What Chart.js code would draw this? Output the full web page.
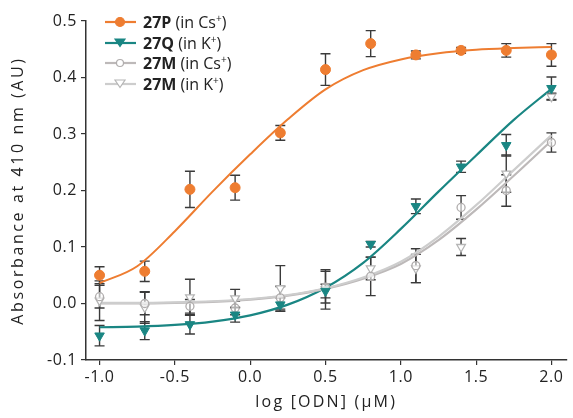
<!DOCTYPE html>
<html>
<head>
<meta charset="utf-8">
<script src="https://cdn.jsdelivr.net/npm/chart.js@4.4.1/dist/chart.umd.min.js"></script>
<style>
  body { margin: 0; background: #fff; }
  #wrap { position: relative; width: 573px; height: 418px; }
  #legend { position: absolute; left: 104px; top: 12px; font-family: "Open Sans", sans-serif; font-size: 16px; color: #222; line-height: 20.5px; }
  #legend div { display: flex; align-items: center; white-space: nowrap; }
  #legend svg { margin-right: 6px; }
  #legend sup { font-size: 10px; vertical-align: 6px; line-height: 0; }
</style>
</head>
<body>
<div id="wrap">
  <canvas id="myChart" width="573" height="418"></canvas>
  <div id="legend"></div>
</div>
<script>
// measured points (log conc.)
const xPts = [-1.0, -0.7, -0.4, -0.1, 0.2, 0.5, 0.8, 1.1, 1.4, 1.7, 2.0];
const p27P = [0.050, 0.057, 0.202, 0.205, 0.302, 0.414, 0.460, 0.440, 0.448, 0.448, 0.440];
const e27P = [0.015, 0.018, 0.032, 0.022, 0.013, 0.028, 0.023, 0.007, 0.005, 0.012, 0.020];
const p27Q = [-0.057, -0.048, -0.037, -0.020, -0.002, 0.022, 0.105, 0.172, 0.242, 0.280, 0.381];
const e27Q = [0.018, 0.016, 0.017, 0.013, 0.012, 0.012, 0.005, 0.013, 0.010, 0.019, 0.020];
const p27MCs = [0.012, 0.000, -0.005, -0.008, 0.010, 0.029, 0.048, 0.067, 0.170, 0.200, 0.285];
const e27MCs = [0.020, 0.020, 0.012, 0.012, 0.020, 0.028, 0.034, 0.030, 0.021, 0.028, 0.017];
const p27MK = [0.005, -0.007, 0.011, 0.009, 0.027, 0.025, 0.062, 0.062, 0.100, 0.230, 0.366];
const e27MK = [0.035, 0.028, 0.032, 0.016, 0.040, 0.035, 0.020, 0.025, 0.015, 0.033, 0.006];

// fitted curves
const xFit = [-1.0, -0.75, -0.5, -0.25, 0, 0.25, 0.5, 0.75, 1.0, 1.25, 1.5, 1.75, 2.0];
const f27P = [0.036, 0.066, 0.128, 0.198, 0.264, 0.326, 0.379, 0.413, 0.432, 0.443, 0.449, 0.452, 0.454];
const f27Q = [-0.042, -0.041, -0.038, -0.032, -0.021, -0.002, 0.028, 0.072, 0.132, 0.198, 0.262, 0.325, 0.380];
const f27MCs = [0.000, 0.000, 0.001, 0.003, 0.007, 0.014, 0.026, 0.044, 0.070, 0.112, 0.166, 0.226, 0.288];
const f27MK = [0.001, 0.001, 0.002, 0.004, 0.008, 0.015, 0.027, 0.046, 0.074, 0.118, 0.174, 0.236, 0.298];

const xTicks = [-1.0, -0.5, 0.0, 0.5, 1.0, 1.5, 2.0];
const yTicks = [-0.1, 0.0, 0.1, 0.2, 0.3, 0.4, 0.5];

const orange = '#ee7d31', teal = '#1a8683', grayCs = '#bdb9b9', grayK = '#cdcdcd';
const pts = (ys) => ys.map((y, i) => ({ x: xPts[i], y: y }));
const fit = (ys) => ys.map((y, i) => ({ x: xFit[i], y: y }));

// wider letter spacing for axis text, like the original figure
function spaced(s, titleSp, labelSp) {
  if (s._spaced) return;
  s._spaced = true;
  const t = s.drawTitle, l = s.drawLabels;
  s.drawTitle = function (a) { this.ctx.save(); this.ctx.letterSpacing = titleSp; t.call(this, a); this.ctx.restore(); };
  s.drawLabels = function (a) { this.ctx.save(); this.ctx.letterSpacing = labelSp; l.call(this, a); this.ctx.restore(); };
}

const errorBars = {
  id: 'errorBars',
  beforeDatasetsDraw(chart) {
    const { ctx, scales: { x, y } } = chart;
    ctx.save();
    ctx.strokeStyle = '#3a3a3a';
    ctx.lineWidth = 1.4;
    chart.data.datasets.forEach(ds => {
      if (!ds.err) return;
      ds.data.forEach((p, i) => {
        const px = x.getPixelForValue(p.x);
        const y1 = y.getPixelForValue(p.y + ds.err[i]);
        const y2 = y.getPixelForValue(p.y - ds.err[i]);
        ctx.beginPath();
        ctx.moveTo(px, y1); ctx.lineTo(px, y2);
        ctx.moveTo(px - 5, y1); ctx.lineTo(px + 5, y1);
        ctx.moveTo(px - 5, y2); ctx.lineTo(px + 5, y2);
        ctx.stroke();
      });
    });
    ctx.restore();
  }
};

const ctx = document.getElementById('myChart');
new Chart(ctx, {
  type: 'scatter',
  data: {
    datasets: [
      { label: '27P fit', data: fit(f27P), showLine: true, borderColor: orange, borderWidth: 2, pointRadius: 0, cubicInterpolationMode: 'monotone', order: 8 },
      { label: '27Q fit', data: fit(f27Q), showLine: true, borderColor: teal, borderWidth: 2.2, pointRadius: 0, cubicInterpolationMode: 'monotone', order: 7 },
      { label: '27M Cs fit', data: fit(f27MCs), showLine: true, borderColor: grayCs, borderWidth: 2.2, pointRadius: 0, cubicInterpolationMode: 'monotone', order: 6 },
      { label: '27M K fit', data: fit(f27MK), showLine: true, borderColor: grayK, borderWidth: 2.2, pointRadius: 0, cubicInterpolationMode: 'monotone', order: 5 },
      { label: '27M (in K+)', data: pts(p27MK), err: e27MK, pointStyle: 'triangle', rotation: 180, pointRadius: 5, backgroundColor: '#fff', borderColor: '#b5b5b5', borderWidth: 1.3, order: 4 },
      { label: '27M (in Cs+)', data: pts(p27MCs), err: e27MCs, pointStyle: 'circle', pointRadius: 4, backgroundColor: 'rgba(255,255,255,0.6)', borderColor: '#b0adad', borderWidth: 1.3, order: 3 },
      { label: '27Q (in K+)', data: pts(p27Q), err: e27Q, pointStyle: 'triangle', rotation: 180, pointRadius: 5.5, backgroundColor: teal, borderColor: teal, borderWidth: 1, order: 2 },
      { label: '27P (in Cs+)', data: pts(p27P), err: e27P, pointStyle: 'circle', pointRadius: 5, backgroundColor: orange, borderColor: orange, borderWidth: 1, order: 1 }
    ]
  },
  options: {
    responsive: false,
    animation: false,
    layout: { padding: { left: 0, right: 1, top: 21, bottom: 0 } },
    plugins: { legend: { display: false }, tooltip: { enabled: false } },
    scales: {
      x: {
        type: 'linear', min: -1.09, max: 2.1,
        afterBuildTicks: s => { s.ticks = xTicks.map(v => ({ value: v })); },
        afterFit: s => { s.height = 58; spaced(s, '2.2px', '0.6px'); },
        ticks: { callback: v => v.toFixed(1), color: '#222', padding: 3, maxRotation: 0, font: { family: 'Open Sans', size: 16 } },
        grid: { drawOnChartArea: false, drawTicks: true, tickLength: 5, color: '#333', lineWidth: 1.2 },
        border: { color: '#333', width: 1.5 },
        title: { display: true, text: 'log [ODN] (\u00B5M)', color: '#222', font: { family: 'Open Sans', size: 16 }, padding: { top: 2, bottom: 6 } }
      },
      y: {
        type: 'linear', min: -0.1, max: 0.5,
        afterBuildTicks: s => { s.ticks = yTicks.map(v => ({ value: v })); },
        afterFit: s => { s.width = 86; spaced(s, '2.6px', '0.6px'); },
        ticks: { callback: v => v.toFixed(1), color: '#222', padding: 4, font: { family: 'Open Sans', size: 16 } },
        grid: { drawOnChartArea: false, drawTicks: true, tickLength: 5, color: '#333', lineWidth: 1.2 },
        border: { color: '#333', width: 1.5 },
        title: { display: true, text: 'Absorbance at 410 nm (AU)', color: '#222', font: { family: 'Open Sans', size: 16 }, padding: { top: 9, bottom: 4 } }
      }
    }
  },
  plugins: [errorBars]
});

// legend: line sample with marker + label
const legendItems = [
  { name: '27P', ion: 'Cs', line: orange, mark: 'circle', fill: orange, stroke: orange },
  { name: '27Q', ion: 'K', line: teal, mark: 'tri', fill: teal, stroke: teal },
  { name: '27M', ion: 'Cs', line: grayCs, mark: 'circle', fill: '#fff', stroke: '#b0adad' },
  { name: '27M', ion: 'K', line: grayK, mark: 'tri', fill: '#fff', stroke: '#b5b5b5' }
];
const legend = document.getElementById('legend');
legendItems.forEach(it => {
  const m = it.mark === 'circle'
    ? `<circle cx="16" cy="8" r="${it.fill === '#fff' ? 3.5 : 4.5}" fill="${it.fill}" stroke="${it.stroke}" stroke-width="1.2"/>`
    : `<polygon points="11,4 21,4 16,11.5" fill="${it.fill}" stroke="${it.stroke}" stroke-width="1.2"/>`;
  legend.insertAdjacentHTML('beforeend',
    `<div><svg width="33" height="16"><line x1="1" y1="8" x2="32" y2="8" stroke="${it.line}" stroke-width="2.2"/>${m}</svg>` +
    `<span><b>${it.name}</b> (in ${it.ion}<sup>+</sup>)</span></div>`);
});
</script>
</body>
</html>
